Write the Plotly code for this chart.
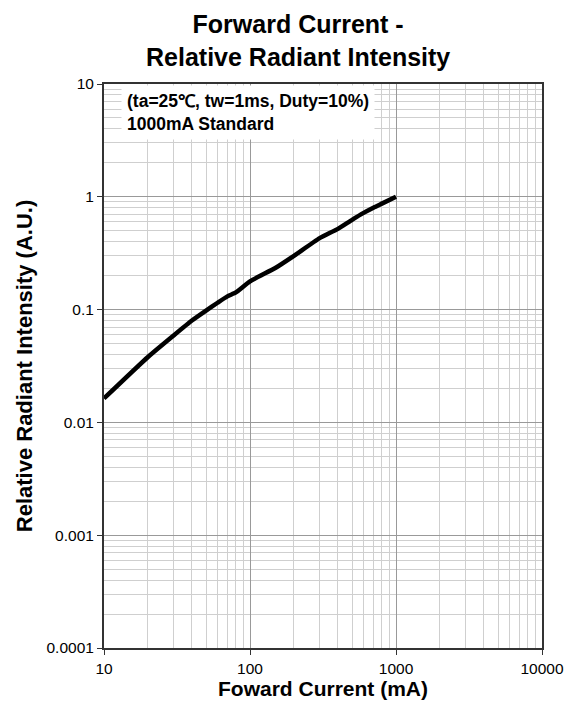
import plotly.graph_objects as go

current_ma = [10, 20, 30, 40, 50, 60, 70, 80, 100, 150, 200, 300, 400, 500, 600, 700, 800, 1000]
rel_intensity = [0.0163, 0.038, 0.059, 0.080, 0.098, 0.115, 0.131, 0.142, 0.178, 0.235,
                 0.30, 0.43, 0.52, 0.625, 0.72, 0.80, 0.87, 1.0]

x_tickvals = [10, 100, 1000, 10000]
x_ticktext = ["10", "100", "1000", "10000"]
y_tickvals = [0.0001, 0.001, 0.01, 0.1, 1, 10]
y_ticktext = ["0.0001", "0.001", "0.01", "0.1", "1", "10"]

FONT = "Liberation Sans, Arial, sans-serif"

fig = go.Figure()
fig.add_trace(go.Scatter(
    x=current_ma, y=rel_intensity, mode="lines",
    line=dict(color="black", width=4.5, shape="spline", smoothing=0.5),
    showlegend=False, hoverinfo="skip"))

common = dict(
    showline=True, linecolor="#333333", linewidth=2, mirror=True,
    showgrid=True, gridcolor="#999999", gridwidth=1,
    ticks="outside", ticklen=5, tickcolor="#333333",
    tickfont=dict(family=FONT, size=15.5, color="black"),
    zeroline=False,
)

fig.update_xaxes(type="log", range=[1, 4], tickvals=x_tickvals, ticktext=x_ticktext,
                 minor=dict(showgrid=True, gridcolor="#cfcfcf", gridwidth=1, dtick="D1", ticks=""),
                 title=dict(text="<b>Foward Current (mA)</b>",
                            font=dict(family=FONT, size=21, color="black"), standoff=6),
                 **common)
fig.update_yaxes(type="log", range=[-4, 1], tickvals=y_tickvals, ticktext=y_ticktext,
                 minor=dict(showgrid=True, gridcolor="#cfcfcf", gridwidth=1, dtick="D1", ticks=""),
                 title=dict(text="<b>Relative Radiant Intensity (A.U.)</b>",
                            font=dict(family=FONT, size=22, color="black"), standoff=8),
                 **common)

fig.add_annotation(
    xref="paper", yref="paper", x=0.038, y=0.998, xanchor="left", yanchor="top",
    text="<b>(ta=25℃, tw=1ms, Duty=10%)<br>1000mA Standard</b>",
    showarrow=False, align="left",
    font=dict(family=FONT, size=17.5, color="black"),
    bgcolor="white", borderpad=5)

fig.add_annotation(
    xref="paper", yref="paper", x=0.443, y=1.135, xanchor="center", yanchor="top",
    text="<b>Forward Current -<br>Relative Radiant Intensity</b>",
    showarrow=False, align="center",
    font=dict(family=FONT, size=25, color="black"))

fig.update_layout(
    width=576, height=709,
    margin=dict(l=104, r=30, t=84, b=58),
    paper_bgcolor="white", plot_bgcolor="white",
)

fig.write_html("out.html")
